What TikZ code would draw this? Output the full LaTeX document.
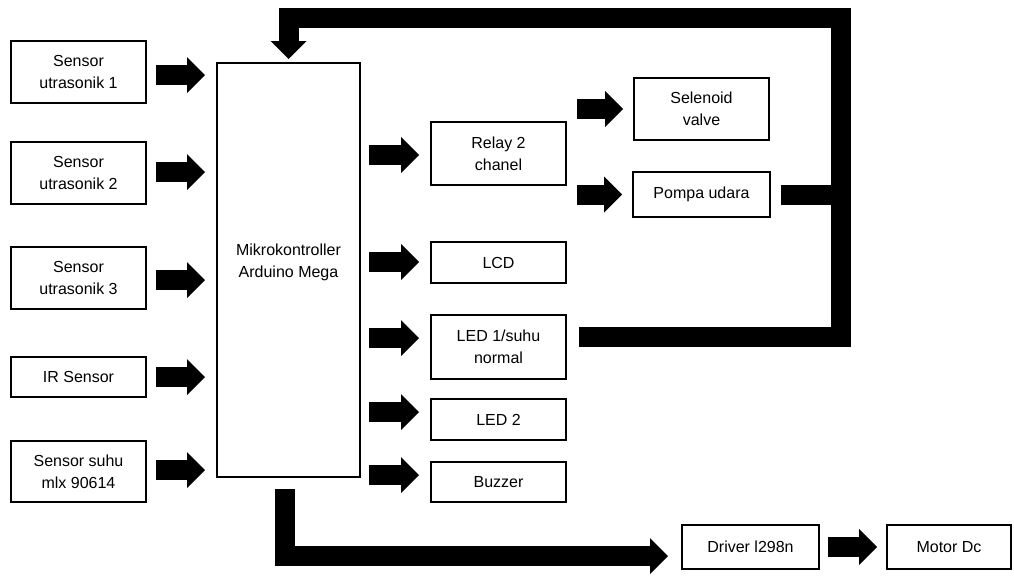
\documentclass[tikz,border=0pt]{standalone}
\usepackage{fontspec}
\setmainfont{Liberation Sans}
\usetikzlibrary{arrows.meta}

\begin{document}
\begin{tikzpicture}[x=1pt,y=-1pt,
 box/.style={draw,line width=2.8pt,align=center,font=\fontsize{16}{22}\selectfont,
 minimum width=135pt,inner sep=2pt,outer sep=0pt},
 blk/.style={line width=20pt,line join=miter,-{Triangle[width=36pt,length=18pt,line width=0pt]}},
 bar/.style={line width=20pt,line join=miter}]
\useasboundingbox (0,0) rectangle (1014,576);
% inputs
\node[box,minimum height=62pt] (s1) at (78.5,72) {Sensor\\utrasonik 1};
\node[box,minimum height=62pt] (s2) at (78.5,173) {Sensor\\utrasonik 2};
\node[box,minimum height=62pt] (s3) at (78.5,278) {Sensor\\utrasonik 3};
\node[box,minimum height=40pt] (ir) at (78.5,377) {IR Sensor};
\node[box,minimum height=61pt] (suhu) at (78.5,471.5) {Sensor suhu\\mlx 90614};
% controller
\node[box,minimum width=143pt,minimum height=414pt] (mcu) at (288.5,270) {Mikrokontroller\\Arduino Mega\\[-4pt]};
% outputs
\node[box,minimum height=63pt] (relay) at (498.5,153.5) {Relay 2\\chanel};
\node[box,minimum height=41pt] (lcd) at (498.5,262.5) {LCD};
\node[box,minimum height=64pt] (led1) at (498.5,347) {LED 1/suhu\\normal};
\node[box,minimum height=41pt] (led2) at (498.5,419.5) {LED 2};
\node[box,minimum height=40pt] (buzz) at (498.5,482) {Buzzer};
\node[box,minimum height=62pt] (sel) at (701.5,109) {Selenoid\\valve};
\node[box,minimum width=137pt,minimum height=45pt] (pompa) at (701.5,194.5) {Pompa udara};
\node[box,minimum width=137pt,minimum height=44pt] (drv) at (750.5,547) {Driver l298n};
\node[box,minimum width=124pt,minimum height=44pt] (motor) at (949,547) {Motor Dc};
\coordinate (fbtop) at (841,18);
% arrows
\foreach \n/\dy in {s1/-3,s2/1,s3/-2,ir/0,suhu/1.5}
 \draw[blk,shorten <=10pt,shorten >=12pt] ([yshift=\dy pt]\n.east) -- ([yshift=\dy pt]\n.east -| mcu.west);
\foreach \n/\dy in {relay/-1.5,lcd/0.5,led1/9,led2/7.5,buzz/7}
 \draw[blk,shorten <=9pt,shorten >=12pt] ([yshift=\dy pt]\n.west -| mcu.east) -- ([yshift=\dy pt]\n.west);
\draw[blk,shorten <=11pt,shorten >=11pt] (relay.east |- sel.west) -- (sel.west);
\draw[blk,shorten <=11pt,shorten >=11pt] (relay.east |- pompa.west) -- (pompa.west);
\draw[blk,shorten <=9pt,shorten >=10pt] (drv) -- (motor);
\draw[blk,shorten <=12pt,shorten >=14pt] ([xshift=-4pt]mcu.south) |- ([yshift=-9pt]drv.west);
% feedback
\draw[bar] ([xshift=11pt]pompa.east) -- (pompa.east -| fbtop);
\draw[blk,shorten >=4pt] ([xshift=13pt,yshift=10pt]led1.east) -| (fbtop) -| (mcu.north);
\end{tikzpicture}
\end{document}
